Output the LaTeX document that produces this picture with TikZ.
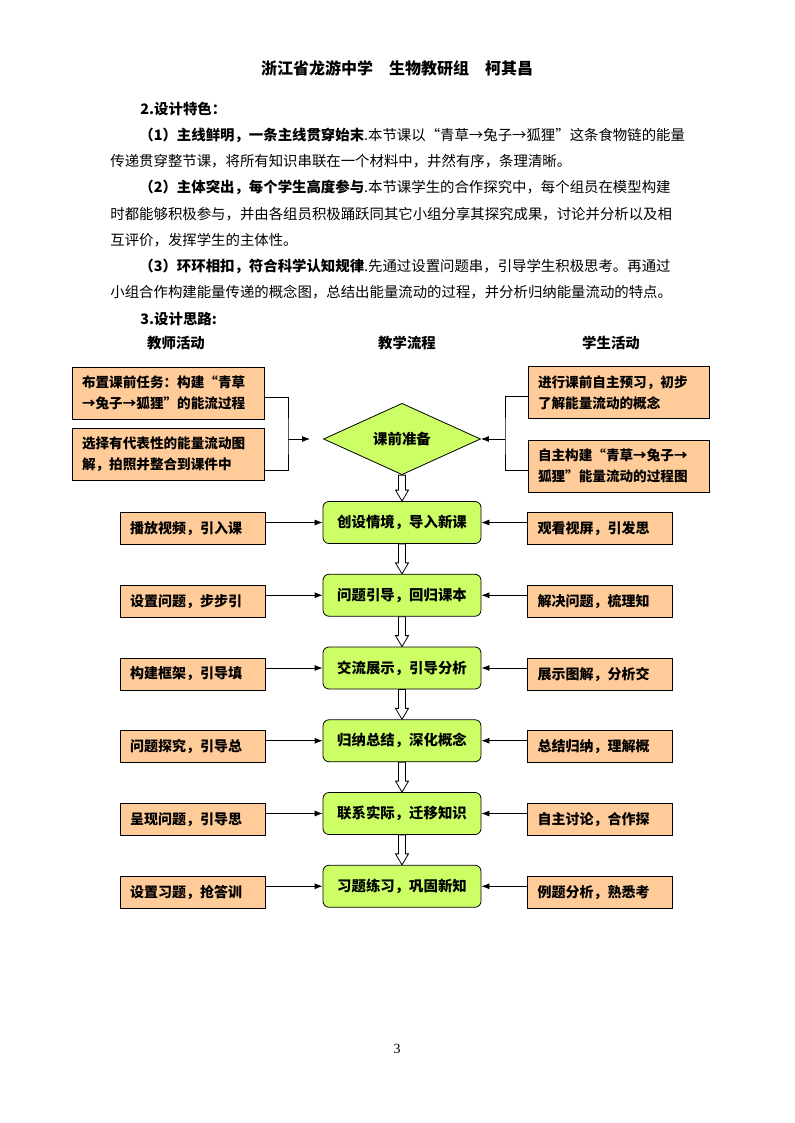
\documentclass[tikz,border=0pt]{standalone}
\usepackage{fontspec}
\setmainfont{Noto Sans CJK SC}
\newfontfamily\numfont{Liberation Serif}
\usepackage{xcolor}
\usepackage{tikz}
\usetikzlibrary{shapes.geometric, arrows.meta, positioning, calc}
\definecolor{peach}{RGB}{255,204,153}
\definecolor{lime}{RGB}{204,255,102}
\newcommand{\hollowarrow}[2]{%
  \draw[fill=white] ($(#1)+(-3.5,0)$) -- ($(#2)+(-3.5,-11)$) -- ($(#2)+(-6.5,-11)$) -- (#2)
    -- ($(#2)+(6.5,-11)$) -- ($(#2)+(3.5,-11)$) -- ($(#1)+(3.5,0)$) -- cycle;}

\begin{document}
\begin{tikzpicture}[x=0.75pt, y=-0.75pt, line width=0.6pt,
  line/.style={anchor=west, inner sep=0pt, font=\fontsize{10.8}{13}\selectfont},
  colhead/.style={inner sep=0pt, font=\bfseries\fontsize{10.8}{13}\selectfont},
  actbox/.style={draw, fill=peach, minimum width=108.75pt, minimum height=24pt, text width=93.75pt,
    align=left, inner xsep=7.5pt, inner ysep=0pt, font=\bfseries\fontsize{10.5}{12}\selectfont},
  taskbox/.style={draw, fill=peach, minimum width=144pt, minimum height=39pt, text width=129pt,
    align=left, inner xsep=7.5pt, inner ysep=0pt, font=\bfseries\fontsize{10.2}{15.75}\selectfont},
  prebox/.style={taskbox, minimum width=135.75pt, text width=120.75pt},
  flowbox/.style={draw, fill=lime, rounded corners=4.5pt, minimum width=118.5pt, minimum height=31.5pt,
    inner sep=0pt, font=\bfseries\fontsize{10.8}{13}\selectfont},
  prepbox/.style={draw, fill=lime, diamond, minimum width=117.75pt, minimum height=46.5pt,
    inner sep=0pt, font=\bfseries\fontsize{10.8}{13}\selectfont},
  link/.style={-{Latex[length=6pt,width=4.5pt]}}]
\path[fill=white] (0,0) rectangle (794,1123);
\useasboundingbox (0,0) rectangle (794,1123);

% heading and text
\node[inner sep=0pt, font=\bfseries\fontsize{12}{14}\selectfont] (title) at (397,68) {浙江省龙游中学\quad 生物教研组\quad 柯其昌};
\node[line, font=\bfseries\fontsize{10.8}{13}\selectfont] (sec2) at (140,109) {2.设计特色：};
\node[line] (p1) at (139,135) {\textbf{（1）主线鲜明，一条主线贯穿始末}.本节课以“青草→兔子→狐狸”这条食物链的能量};
\node[line] (p2) at (110,161) {传递贯穿整节课，将所有知识串联在一个材料中，井然有序，条理清晰。};
\node[line] (p3) at (139,187) {\textbf{（2）主体突出，每个学生高度参与}.本节课学生的合作探究中，每个组员在模型构建};
\node[line] (p4) at (110,214) {时都能够积极参与，并由各组员积极踊跃同其它小组分享其探究成果，讨论并分析以及相};
\node[line] (p5) at (110,240) {互评价，发挥学生的主体性。};
\node[line] (p6) at (139,266) {\textbf{（3）环环相扣，符合科学认知规律}.先通过设置问题串，引导学生积极思考。再通过};
\node[line] (p7) at (110,292) {小组合作构建能量传递的概念图，总结出能量流动的过程，并分析归纳能量流动的特点。};
\node[line, font=\bfseries\fontsize{10.8}{13}\selectfont] (sec3) at (140,319) {3.设计思路:};
\node[colhead] (hteach) at (176,343) {教师活动};
\node[colhead] (hflow) at (407,343) {教学流程};
\node[colhead] (hstud) at (611,343) {学生活动};

% preparation
\node[prepbox] (prep) at (402,439) {课前准备};
\node[taskbox] (task1) at (168,393) {布置课前任务：构建“青草\\→兔子→狐狸”的能流过程};
\node[taskbox] (task2) at (168,454.5) {选择有代表性的能量流动图\\解，拍照并整合到课件中};
\node[prebox] (pre1) at (618.5,392.5) {进行课前自主预习，初步\\了解能量流动的概念};
\node[prebox] (pre2) at (618.5,466) {自主构建“青草→兔子→\\狐狸”能量流动的过程图};
\coordinate (lj) at (288,439);
\coordinate (ltip) at (310,439);
\coordinate (rj) at (505,439);
\draw ([yshift=-3pt]task1.east) -| (lj) |- ([yshift=-11.6pt]task2.east);
\draw[link] (lj) -- (ltip);
\draw ([yshift=-3pt]pre1.west) -| (rj) |- ([yshift=-3pt]pre2.west);
\draw[link] (rj) -- (prep.east);

% teaching flow
\node[flowbox] (f1) at (402,522.5) {创设情境，导入新课};
\node[flowbox] (f2) at (402,595.25) {问题引导，回归课本};
\node[flowbox] (f3) at (402,668) {交流展示，引导分析};
\node[flowbox] (f4) at (402,740.75) {归纳总结，深化概念};
\node[flowbox] (f5) at (402,813.5) {联系实际，迁移知识};
\node[flowbox] (f6) at (402,886.25) {习题练习，巩固新知};

\node[actbox] (t1) at (192.5,528.5) {播放视频，引入课};
\node[actbox] (t2) at (192.5,601.25) {设置问题，步步引};
\node[actbox] (t3) at (192.5,674) {构建框架，引导填};
\node[actbox] (t4) at (192.5,746.75) {问题探究，引导总};
\node[actbox] (t5) at (192.5,819.5) {呈现问题，引导思};
\node[actbox] (t6) at (192.5,892.25) {设置习题，抢答训};

\node[actbox] (s1) at (600,528.5) {观看视屏，引发思};
\node[actbox] (s2) at (600,601.25) {解决问题，梳理知};
\node[actbox] (s3) at (600,674) {展示图解，分析交};
\node[actbox] (s4) at (600,746.75) {总结归纳，理解概};
\node[actbox] (s5) at (600,819.5) {自主讨论，合作探};
\node[actbox] (s6) at (600,892.25) {例题分析，熟悉考};

\draw[link] (t1.east |- f1) -- (f1.west);
\draw[link] (t2.east |- f2) -- (f2.west);
\draw[link] (t3.east |- f3) -- (f3.west);
\draw[link] (t4.east |- f4) -- (f4.west);
\draw[link] (t5.east |- f5) -- (f5.west);
\draw[link] (t6.east |- f6) -- (f6.west);
\draw[link] (s1.west |- f1) -- (f1.east);
\draw[link] (s2.west |- f2) -- (f2.east);
\draw[link] (s3.west |- f3) -- (f3.east);
\draw[link] (s4.west |- f4) -- (f4.east);
\draw[link] (s5.west |- f5) -- (f5.east);
\draw[link] (s6.west |- f6) -- (f6.east);

\hollowarrow{prep.south}{f1.north}
\hollowarrow{f1.south}{f2.north}
\hollowarrow{f2.south}{f3.north}
\hollowarrow{f3.south}{f4.north}
\hollowarrow{f4.south}{f5.north}
\hollowarrow{f5.south}{f6.north}

\node[inner sep=0pt, font=\numfont\fontsize{10.5}{12}\selectfont] (pageno) at (397,1049) {3};
\end{tikzpicture}
\end{document}
